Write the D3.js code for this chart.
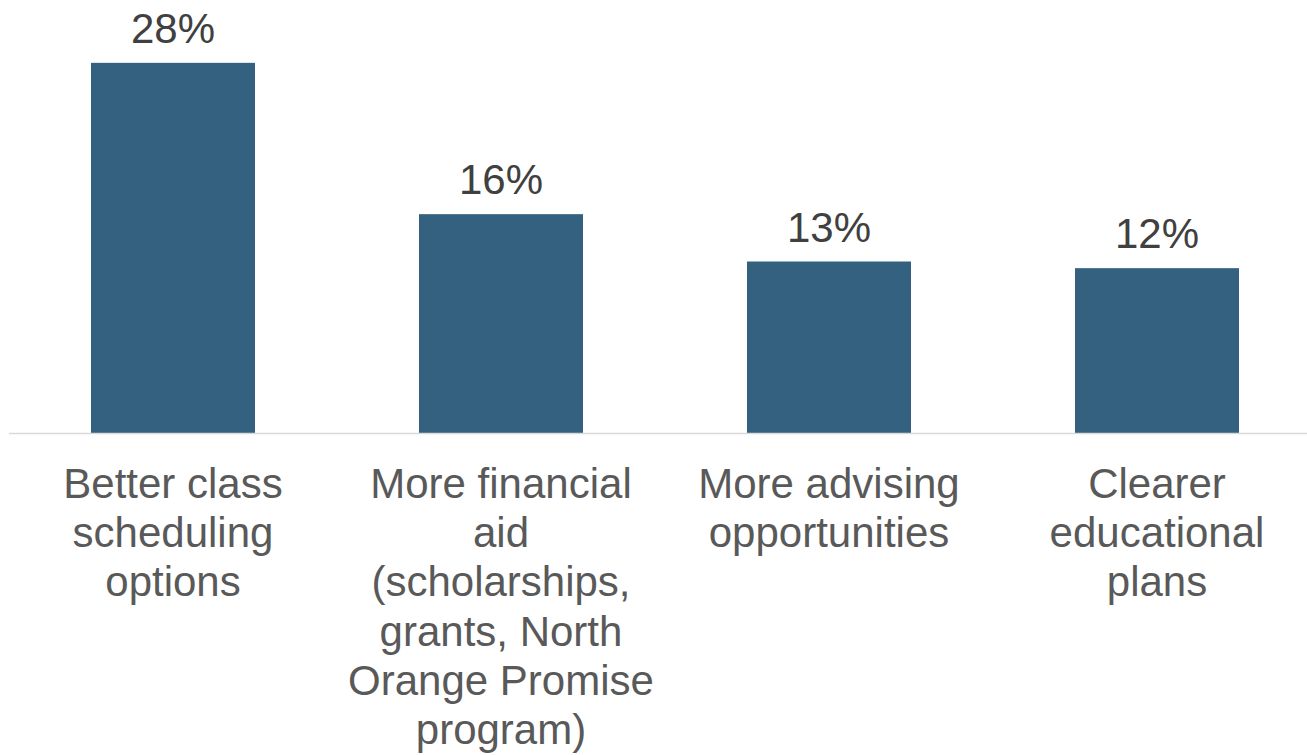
<!DOCTYPE html>
<html>
<head>
<meta charset="utf-8">
<script src="https://cdn.jsdelivr.net/npm/d3@7"></script>
<style>
  body { margin: 0; background: #fff; }
  svg { display: block; }
</style>
</head>
<body>
<div id="chart"></div>
<script>
// categories, wrapped the way the original slide shows them
const categories = [
    "Better class scheduling options",
    "More financial aid (scholarships, grants, North Orange Promise program)",
    "More advising opportunities",
    "Clearer educational plans"
];
const tickLines = [
    ["Better class", "scheduling", "options"],
    ["More financial", "aid", "(scholarships,", "grants, North", "Orange Promise", "program)"],
    ["More advising", "opportunities"],
    ["Clearer", "educational", "plans"]
];
// share of respondents (labels round to whole percent)
const values = [0.278, 0.1645, 0.129, 0.124];

const width = 1307, height = 755;
const baseY = 433.5;

const svg = d3.select("#chart")
    .append("svg")
    .attr("width", width)
    .attr("height", height);

const x = d3.scaleBand()
    .domain(categories)
    .range([9, 1321])
    .paddingInner(0.5)
    .paddingOuter(0.25);

const y = d3.scaleLinear()
    .domain([0, 0.3])
    .range([baseY, 33.5]);

const fmt = d3.format(".0%");
const data = categories.map((c, i) => ({ cat: c, value: values[i], lines: tickLines[i] }));

// bars
svg.selectAll(".bar")
    .data(data)
    .join("rect")
    .attr("class", "bar")
    .attr("x", d => x(d.cat))
    .attr("y", d => y(d.value))
    .attr("width", x.bandwidth())
    .attr("height", d => y(0) - y(d.value))
    .attr("fill", "#33617f");

// baseline
svg.append("line")
    .attr("x1", 9)
    .attr("x2", width)
    .attr("y1", y(0))
    .attr("y2", y(0))
    .attr("stroke", "#d9d9d9")
    .attr("stroke-width", 1.5);

// value labels
svg.selectAll(".value")
    .data(data)
    .join("text")
    .attr("class", "value")
    .attr("x", d => x(d.cat) + x.bandwidth() / 2)
    .attr("y", d => y(d.value) - 20)
    .attr("text-anchor", "middle")
    .style("font-family", "'Liberation Sans', Arial, sans-serif")
    .style("font-size", "42px")
    .style("fill", "#404040")
    .text(d => fmt(d.value));

// category labels
const cats = svg.selectAll(".cat")
    .data(data)
    .join("text")
    .attr("class", "cat")
    .attr("text-anchor", "middle")
    .style("font-family", "'Liberation Sans', Arial, sans-serif")
    .style("font-size", "42px")
    .style("fill", "#595959");

cats.selectAll("tspan")
    .data(d => d.lines.map(l => ({ line: l, cx: x(d.cat) + x.bandwidth() / 2 })))
    .join("tspan")
    .attr("x", d => d.cx)
    .attr("y", (d, i) => 498 + i * 49.2)
    .text(d => d.line);
</script>
</body>
</html>
